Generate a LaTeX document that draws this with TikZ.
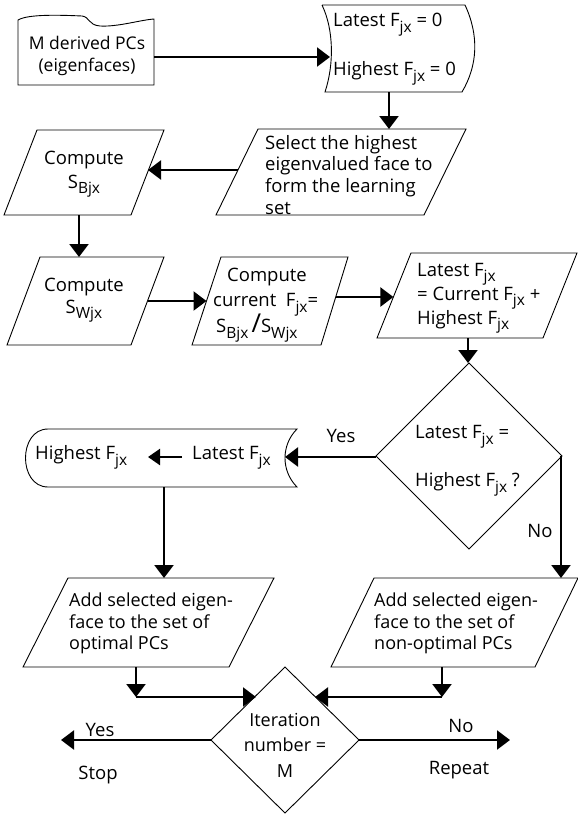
\documentclass[tikz,border=0pt]{standalone}
\usepackage{fontspec}
\setmainfont{Open Sans}
\usetikzlibrary{arrows.meta}
\newcommand{\sbx}[1]{\raisebox{-5.5pt}{\fontsize{15.5}{15.5}\selectfont #1}}
\begin{document}
\begin{tikzpicture}[x=1pt,y=-1pt,
  outline/.style={line width=0.9pt, line join=miter},
  conn/.style={line width=2.2pt, -{Triangle[length=13pt,width=19pt]}},
  txt/.style={inner sep=0pt, font=\fontsize{18.5}{21.5}\selectfont},
  one/.style={txt, text height=13pt, text depth=4pt},
  multi/.style={txt, align=left},
]
\useasboundingbox (0,0) rectangle (578,815);

% ---------- shapes ----------
% document
\draw[outline] (18,20) .. controls (28,14) and (60,15) .. (82,16)
  .. controls (90,17) and (88,25) .. (100,26)
  .. controls (118,27) and (140,20) .. (154,19) -- (154,85) -- (18,85) -- cycle;
\coordinate (doc-e) at (154,57);
\node[multi, align=center, anchor=north, font=\fontsize{17.5}{22}\selectfont] (doc) at (87,36) {M derived PCs\\(eigenfaces)};

% stored data 1
\draw[outline] (322,5) -- (465,5) .. controls (479,35) and (478,65) .. (462,92)
  -- (325,92) .. controls (334,65) and (334,30) .. (322,5);
\coordinate (st1-w) at (330,57);
\coordinate (st1-s) at (389,92);
\node[one, anchor=west] (st1a) at (333,22) {Latest F\sbx{jx} = 0};
\node[one, anchor=west] (st1b) at (333,71) {Highest F\sbx{jx} = 0};

% select
\draw[outline] (258,129) -- (466,129) -- (424,215) -- (216,215) -- cycle;
\coordinate (sel-n) at (389,129);
\coordinate (sel-w) at (238,170);
\node[multi, anchor=north west, font=\fontsize{18.5}{21.7}\selectfont] (sel) at (265,135)
  {Select the highest\\eigenvalued face to\\form the learning\\set};

% compute SB
\draw[outline] (37,130) -- (164,130) -- (131,215) -- (4,215) -- cycle;
\coordinate (sb-e) at (148,170);
\coordinate (sb-s) at (79,215);
\node[multi, align=center, anchor=north] (sb) at (84,151) {Compute\\[2pt]S\sbx{Bjx}};

% compute SW
\draw[outline] (40,257) -- (164,257) -- (131,345) -- (7,345) -- cycle;
\coordinate (sw-n) at (79,257);
\coordinate (sw-e) at (147.5,301);
\node[multi, align=center, anchor=north] (sw) at (84,278) {Compute\\S\sbx{Wjx}};

% compute current
\draw[outline] (221,257) -- (348,257) -- (321,345) -- (192,345) -- cycle;
\coordinate (cc-w) at (206.5,301);
\coordinate (cc-e) at (335.7,297);
\node[one, anchor=center] (cc1) at (267,277) {Compute};
\node[one, anchor=west] (cc2) at (213,302) {current\ \ F\sbx{jx}=};
\node[one, anchor=west] (cc3) at (216,328) {S\sbx{Bjx}\,{\fontsize{26}{26}\selectfont /}S\sbx{Wjx}};

% latest
\draw[outline] (411,253) -- (577,253) -- (543,338) -- (377,338) -- cycle;
\coordinate (lt-w) at (393.4,297);
\coordinate (lt-s) at (468,338);
\node[multi, anchor=north west, font=\fontsize{18.5}{24}\selectfont] (lt) at (417,263)
  {Latest F\sbx{jx}\\= Current F\sbx{jx} +\\Highest F\sbx{jx}};

% decision 1
\draw[outline] (469,363) -- (562,456) -- (469,549) -- (376,456) -- cycle;
\coordinate (d1-n) at (468,363);
\coordinate (d1-w) at (376,457);
\coordinate (d1-e) at (562,456);
\node[one, anchor=west] (d1a) at (415,434) {Latest F\sbx{jx} =};
\node[one, anchor=west] (d1b) at (415,482) {Highest F\sbx{jx} ?};

% stored data 2
\draw[outline] (48,429) -- (297,429) .. controls (281,445) and (281,471) .. (297,487)
  -- (48,487) .. controls (18,487) and (18,429) .. (48,429);
\coordinate (st2-e) at (285,457);
\coordinate (st2-s) at (164,487);
\node[one, anchor=west] (st2a) at (35,455) {Highest F\sbx{jx}};
\node[one, anchor=west] (st2b) at (192,455) {Latest F\sbx{jx}};
\coordinate (ar-s) at (182,457);
\coordinate (ar-e) at (148,457);
\draw[line width=2.2pt, -{Triangle[length=12pt,width=16pt]}] (ar-s) -- (ar-e);

% add optimal
\draw[outline] (68,578) -- (274,578) -- (229,667) -- (23,667) -- cycle;
\coordinate (ao-n) at (164,578);
\coordinate (ao-s) at (136,667);
\node[multi, anchor=north west, font=\fontsize{18}{21.5}\selectfont] (ao) at (69,593)
  {Add selected eigen-\\face to the set of\\optimal PCs};

% add non-optimal
\draw[outline] (374,578) -- (578,578) -- (535,667) -- (331,667) -- cycle;
\coordinate (an-n) at (561,578);
\coordinate (an-s) at (442,667);
\node[multi, anchor=north west, font=\fontsize{18}{21.5}\selectfont] (an) at (374,593)
  {Add selected eigen-\\face to the set of\\non-optimal PCs};

% decision 2
\draw[outline] (285,667) -- (359,740) -- (285,813) -- (211,740) -- cycle;
\coordinate (d2-w) at (211,740);
\coordinate (d2-e) at (359,740);
\coordinate (d2-nw) at (256,697);
\coordinate (d2-ne) at (315,697);
\node[multi, align=center, anchor=north, font=\fontsize{18}{25.5}\selectfont] (d2) at (285,713)
  {Iteration\\number =\\M};

\coordinate (ml) at (136,697);
\coordinate (mr) at (442,697);
\coordinate (stop-p) at (61,740);
\coordinate (rep-p) at (510,740);
\coordinate (no1) at (561,456);

% ---------- connectors ----------
\draw[conn] (doc-e) -- (st1-w);
\draw[conn] (st1-s) -- (sel-n);
\draw[conn] (sel-w) -- (sb-e);
\draw[conn] (sb-s) -- (sw-n);
\draw[conn] (sw-e) -- (cc-w);
\draw[conn] (cc-e) -- (lt-w);
\draw[conn] (lt-s) -- (d1-n);
\draw[conn] (d1-w) -- (st2-e);
\draw[conn] (no1) -- (an-n);
\draw[conn] (st2-s) -- (ao-n);
\draw[conn] (ao-s) -- (ml);
\draw[conn] (ml) -- (d2-nw);
\draw[conn] (an-s) -- (mr);
\draw[conn] (mr) -- (d2-ne);
\draw[conn] (d2-w) -- (stop-p);
\draw[conn] (d2-e) -- (rep-p);

% ---------- labels ----------
\node[one] (yes1) at (341,438) {Yes};
\node[one] (no1l) at (540,533) {No};
\node[one] (yes2) at (100,732) {Yes};
\node[one] (stop) at (98,775) {Stop};
\node[one] (no2) at (461,728) {No};
\node[one] (rep) at (459,770) {Repeat};
\end{tikzpicture}
\end{document}
